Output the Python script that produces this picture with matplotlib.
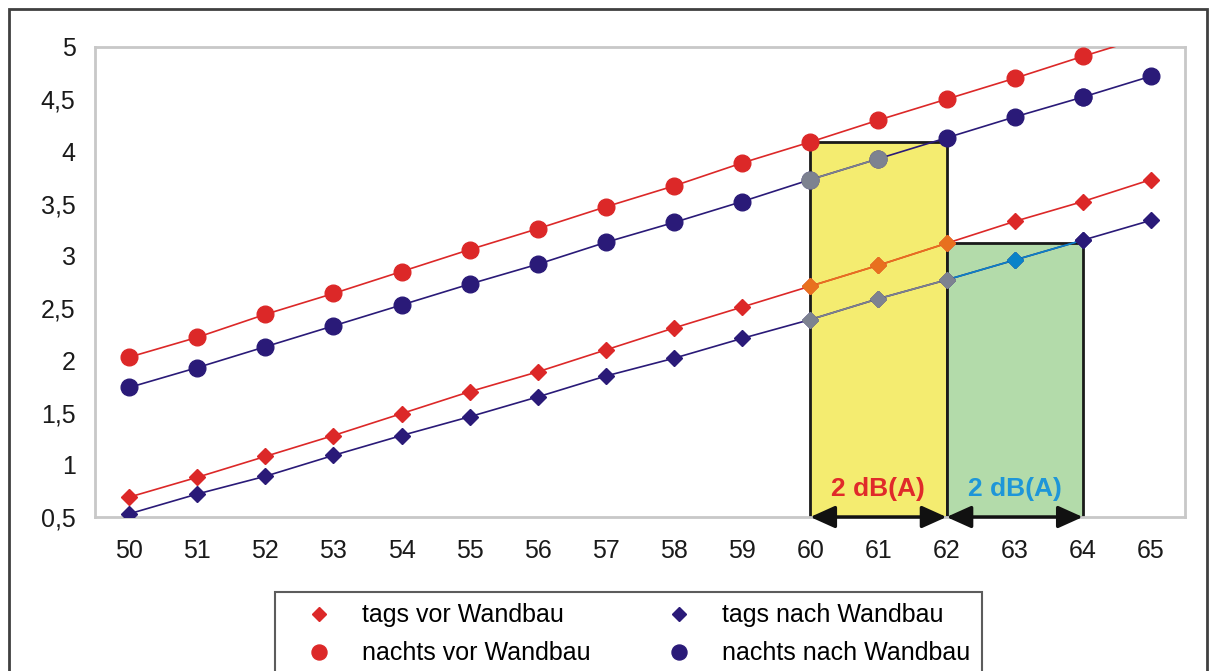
import matplotlib
matplotlib.use("Agg")
import matplotlib.pyplot as plt
from matplotlib.patches import Rectangle
import numpy as np

plt.rcParams["font.family"] = ["Liberation Sans", "DejaVu Sans"]

# pegel in dB(A)
pegel = np.arange(50, 66)
tags_vor = [0.69, 0.88, 1.08, 1.28, 1.49, 1.70, 1.89, 2.10, 2.31, 2.51, 2.71, 2.91, 3.12, 3.33, 3.52, 3.73]
tags_nach = [0.53, 0.72, 0.89, 1.09, 1.28, 1.46, 1.65, 1.85, 2.02, 2.21, 2.39, 2.59, 2.77, 2.96, 3.15, 3.34]
nachts_vor = [2.03, 2.22, 2.44, 2.64, 2.85, 3.06, 3.26, 3.47, 3.67, 3.89, 4.09, 4.30, 4.50, 4.70, 4.91, 5.11]
nachts_nach = [1.74, 1.93, 2.13, 2.33, 2.53, 2.73, 2.92, 3.13, 3.32, 3.52, 3.73, 3.93, 4.13, 4.33, 4.52, 4.72]

yticks = [0.5, 1, 1.5, 2, 2.5, 3, 3.5, 4, 4.5, 5]
ytick_labels = ["0,5", "1", "1,5", "2", "2,5", "3", "3,5", "4", "4,5", "5"]

# bereiche: 60-62 und 62-64
gelb_x = (60, 62)
gruen_x = (62, 64)
label_text = "2 dB(A)"

rot = "#dc2828"
blau = "#2a1a78"

fig = plt.figure(figsize=(12.09, 6.71), dpi=100)
ax = fig.add_axes([0.0786, 0.2295, 0.9015, 0.7005])

i60 = list(pegel).index(gelb_x[0])
i62 = list(pegel).index(gruen_x[0])
gelb_top = nachts_vor[i60]
gruen_top = tags_vor[i62]

ax.add_patch(Rectangle((gelb_x[0], 0.5), gelb_x[1] - gelb_x[0], gelb_top - 0.5,
                       facecolor="#f4ec70", edgecolor="#1a1a1a", lw=2, zorder=1))
ax.add_patch(Rectangle((gruen_x[0], 0.5), gruen_x[1] - gruen_x[0], gruen_top - 0.5,
                       facecolor="#b3dbaa", edgecolor="#1a1a1a", lw=2, zorder=1))

series = [
    (tags_vor, rot, "D", 8, "tags vor Wandbau"),
    (nachts_vor, rot, "o", 12, "nachts vor Wandbau"),
    (tags_nach, blau, "D", 8, "tags nach Wandbau"),
    (nachts_nach, blau, "o", 12, "nachts nach Wandbau"),
]

handles = []
for y, c, m, ms, lab in series:
    ax.plot(pegel, y, color=c, lw=1.2, zorder=3)
    ax.plot(pegel, y, ls="none", marker=m, ms=ms, color=c, mec=c, zorder=4)
    h, = ax.plot([], [], ls="none", marker=m, ms=ms * 0.9, color=c, label=lab)
    handles.append(h)

    # farbwirkung der flaechen auf die punkte
    y = np.array(y)
    tint_gelb = "#e8701e" if c == rot else "#7d8290"
    mask = (pegel >= gelb_x[0]) & (pegel <= gelb_x[1]) & (y < gelb_top - 0.01)
    if mask.sum() > 0:
        ax.plot(pegel[mask], y[mask], color=tint_gelb, lw=1.2, zorder=3.5)
        ax.plot(pegel[mask], y[mask], ls="none", marker=m, ms=ms, color=tint_gelb, zorder=4.5)
    if c == blau:
        tint_gruen = "#0a82c8"
        mask = (pegel >= gruen_x[0]) & (pegel <= gruen_x[1]) & (y < gruen_top + 0.05)
        ax.plot(pegel[mask], y[mask], color=tint_gruen, lw=1.2, zorder=3.5)
        mask = mask & (pegel > gruen_x[0]) & (y < gruen_top - 0.01)
        ax.plot(pegel[mask], y[mask], ls="none", marker=m, ms=ms, color=tint_gruen, zorder=4.5)
        ax.plot(pegel[pegel == gruen_x[1]], y[pegel == gruen_x[1]], ls="none",
                marker=m, ms=ms, color=c, zorder=4.6)

arrow = dict(arrowstyle="<|-|>,head_length=1.0,head_width=0.45", color="#111111",
             lw=2.5, mutation_scale=15, shrinkA=0, shrinkB=0)
for x0, x1 in (gelb_x, gruen_x):
    ax.annotate("", xy=(x0, 0.5), xytext=(x1, 0.5), arrowprops=arrow,
                annotation_clip=False, zorder=6)

ax.text(sum(gelb_x) / 2, 0.765, label_text, color="#e02a2a", fontsize=19,
        fontweight="bold", ha="center", va="center", zorder=6)
ax.text(sum(gruen_x) / 2, 0.765, label_text, color="#1e96d8", fontsize=19,
        fontweight="bold", ha="center", va="center", zorder=6)

ax.set_xlim(49.5, 65.5)
ax.set_ylim(0.5, 5)
ax.set_xticks(pegel)
ax.set_yticks(yticks)
ax.set_yticklabels(ytick_labels)
ax.tick_params(length=0, labelsize=18, colors="#1a1a1a")
ax.tick_params(axis="y", pad=14)
ax.tick_params(axis="x", pad=16)
for s in ax.spines.values():
    s.set_color("#c8c8c8")
    s.set_linewidth(2)

# aeusserer rahmen
fig.patches.append(Rectangle((9 / 1209, -0.2), 1198 / 1209, 1.2 - 9 / 671,
                             transform=fig.transFigure, fill=False,
                             edgecolor="#404040", lw=2))

leg = fig.legend(handles=handles, loc="upper left", ncol=2,
                 bbox_to_anchor=(275 / 1209, 1 - 592 / 671), fontsize=18,
                 frameon=True, fancybox=False, edgecolor="#333333",
                 handlelength=2.62, handletextpad=0.41, columnspacing=2.24,
                 borderaxespad=0, labelspacing=0.56, borderpad=0.45)
leg.get_frame().set_linewidth(1.5)

fig.savefig("out.png", dpi=100)
